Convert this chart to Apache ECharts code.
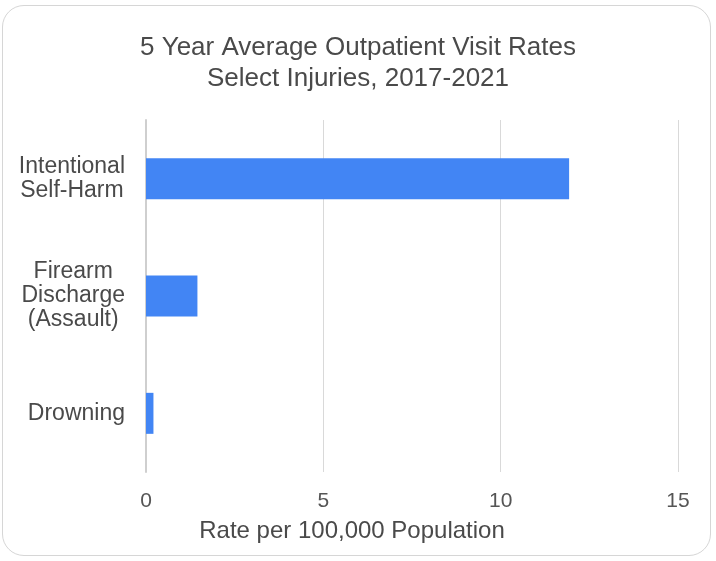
<!DOCTYPE html>
<html>
<head>
<meta charset="utf-8">
<script src="https://cdn.jsdelivr.net/npm/echarts@6/dist/echarts.min.js"></script>
<style>
  html, body { margin: 0; padding: 0; background: #fff; }
  #frame {
    position: absolute; left: 2px; top: 5px; width: 709px; height: 551px;
    border: 1px solid #d6d6d6; border-radius: 22px; box-sizing: border-box;
  }
  #chart { position: absolute; left: 0; top: 0; width: 716px; height: 561px; }
</style>
</head>
<body>
<div id="frame"></div>
<div id="chart"></div>
<script>
// Injury categories, listed top to bottom
const categories = ['Intentional\nSelf-Harm', 'Firearm\nDischarge\n(Assault)', 'Drowning'];
// 5-year average outpatient visit rate per 100,000 population
const rates = [11.93, 1.45, 0.21];
// Value axis ticks
const xTicks = [0, 5, 10, 15];

const chart = echarts.init(document.getElementById('chart'), null, { renderer: 'canvas' });
const font = 'Liberation Sans, Arial, sans-serif';
const labelColor = '#4a4a4a';

chart.setOption({
  animation: false,
  title: {
    text: '5 Year Average Outpatient Visit Rates\nSelect Injuries, 2017-2021',
    left: 'center',
    top: 27,
    textStyle: { fontFamily: font, fontSize: 26, fontWeight: 'normal', color: labelColor, lineHeight: 31 }
  },
  grid: { left: 146, right: 38, top: 120, bottom: 89, containLabel: false },
  xAxis: {
    type: 'value',
    min: xTicks[0],
    max: xTicks[xTicks.length - 1],
    interval: xTicks[1] - xTicks[0],
    name: 'Rate per 100,000 Population',
    nameLocation: 'middle',
    nameGap: 47,
    // centred under the whole chart rather than the plot area
    nameTextStyle: { fontFamily: font, fontSize: 24, color: labelColor, padding: [0, 120, 0, 0] },
    axisLine: { show: false },
    axisTick: { show: false },
    axisLabel: { fontFamily: font, fontSize: 21, color: '#555', margin: 19 },
    splitLine: { show: true, lineStyle: { color: '#d9d9d9', width: 1 } }
  },
  yAxis: {
    type: 'category',
    data: categories,
    inverse: true,
    axisLine: { show: true, lineStyle: { color: '#cfcfcf', width: 2 } },
    axisTick: { show: false },
    axisLabel: {
      margin: 21,
      align: 'right',
      // each label block sits right of the axis gap, its lines centred within it
      formatter: v => v.split('\n').map(s => '{c|' + s + '}').join('\n'),
      rich: {
        c: { align: 'center', fontFamily: font, fontSize: 23, color: labelColor, lineHeight: 24 }
      }
    }
  },
  series: [{
    type: 'bar',
    data: rates,
    barWidth: 41,
    itemStyle: { color: '#4285f4' }
  }]
});
</script>
</body>
</html>
